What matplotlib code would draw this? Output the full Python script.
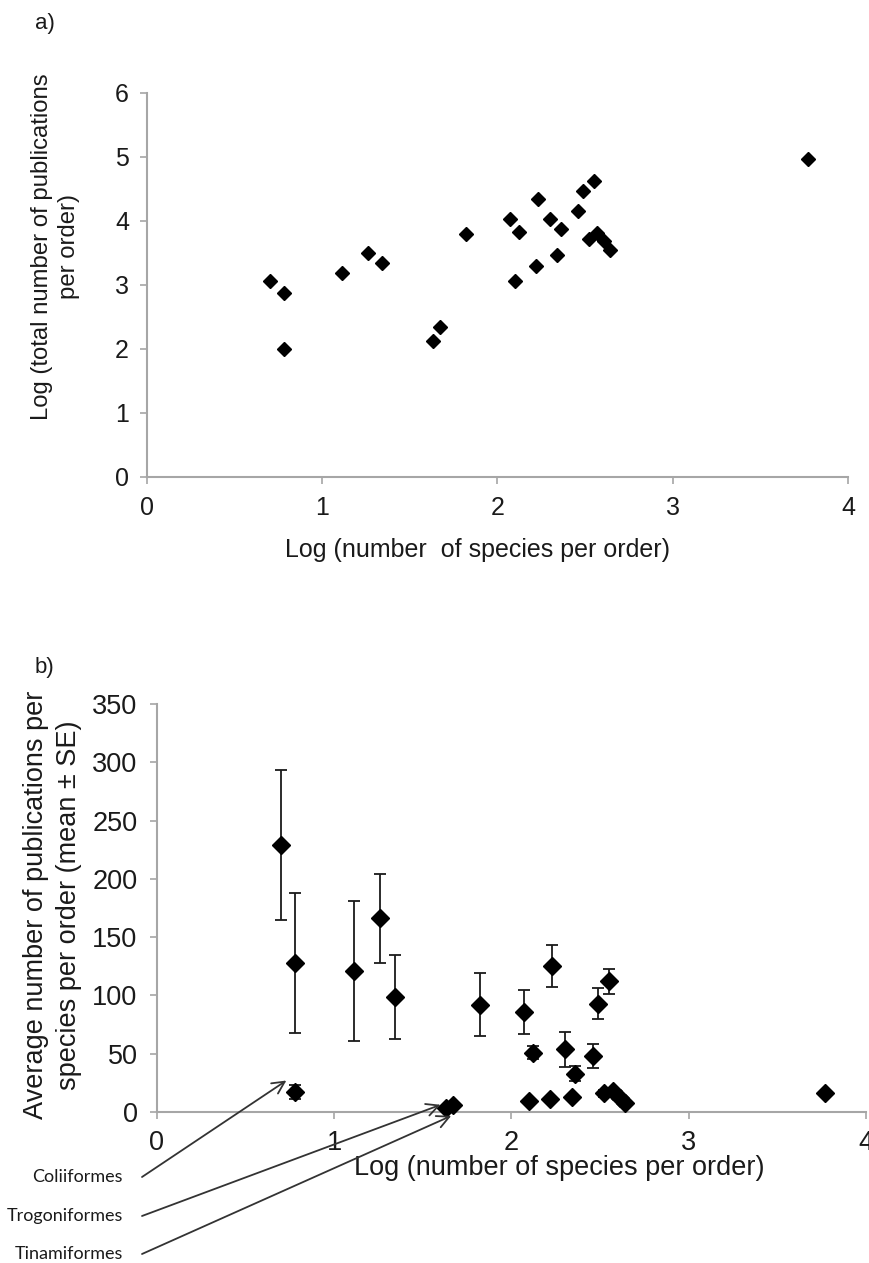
import matplotlib
matplotlib.use("Agg")
import matplotlib.pyplot as plt
import numpy as np

# ---- data ----
log_species = [0.70, 0.78, 0.78, 1.11, 1.26, 1.34, 1.63, 1.67, 1.82, 2.07, 2.10, 2.12, 2.22,
               2.23, 2.30, 2.34, 2.36, 2.46, 2.49, 2.52, 2.55, 2.57, 2.61, 2.64, 3.77]
log_total_pubs = [3.07, 2.88, 2.00, 3.19, 3.50, 3.34, 2.12, 2.35, 3.80, 4.03, 3.06, 3.83, 3.29,
                  4.34, 4.03, 3.47, 3.87, 4.16, 4.47, 3.72, 4.62, 3.81, 3.68, 3.55, 4.97]
mean_pubs = [229, 128, 17, 121, 166, 99, 3.7, 5.7, 92, 86, 9.4, 51, 11,
             125, 54, 13, 33, 48, 93, 16, 112, 18, 12, 8, 16]
se_pubs = [64, 60, 6, 60, 38, 36, 0, 0, 27, 19, 0, 5.5, 0,
           18, 15, 0, 6.5, 10, 13, 3, 10.6, 2, 0, 0, 0]

labelled_orders = ["Coliiformes", "Trogoniformes", "Tinamiformes"]
labelled_index = [2, 6, 7]
arrow_offset_x = [-0.05, -0.03, -0.01]
arrow_offset_y = [10, 2.5, -9]

xticks = [0, 1, 2, 3, 4]
yticks_a = [0, 1, 2, 3, 4, 5, 6]
yticks_b = [0, 50, 100, 150, 200, 250, 300, 350]

W, H = 870, 1263
fig = plt.figure(figsize=(W / 100, H / 100), dpi=100)
plt.rcParams['font.family'] = ['Liberation Sans', 'DejaVu Sans']

axis_grey = '#a6a6a6'
text_col = '#1a1a1a'


def style(ax, fs, xpad, ypad):
    for s in ['top', 'right']:
        ax.spines[s].set_visible(False)
    for s in ['left', 'bottom']:
        ax.spines[s].set_color(axis_grey)
        ax.spines[s].set_linewidth(1.5)
    ax.tick_params(axis='both', colors=axis_grey, labelcolor=text_col, length=5,
                   width=1.2, labelsize=fs, direction='out')
    ax.tick_params(axis='x', pad=xpad)
    ax.tick_params(axis='y', pad=ypad)


# ---- panel a ----
fs_a = 18
axa = fig.add_axes([147 / W, 1 - 477 / H, (848 - 147) / W, (477 - 93) / H])
axa.plot(log_species, log_total_pubs, linestyle='none', marker='D', ms=7.0,
         color='black', clip_on=False)
axa.set_xlim(0, 4)
axa.set_ylim(0, 6)
axa.set_xticks(xticks)
axa.set_yticks(yticks_a)
style(axa, fs_a, 9, 8)
axa.set_xlabel('Log (number  of species per order)', fontsize=fs_a, color=text_col)
axa.xaxis.set_label_coords(0.471, -0.158)
axa.set_ylabel('Log (total number of publications\nper order)', fontsize=17.2,
               color=text_col, linespacing=1.3, ha='center', va='center')
axa.yaxis.set_label_coords(-0.13, 0.60)

# ---- panel b ----
fs_b = 19.5
axb = fig.add_axes([157 / W, 1 - 1112 / H, (866 - 157) / W, (1112 - 704) / H])
axb.errorbar(log_species, mean_pubs, yerr=se_pubs, fmt='none', ecolor=text_col,
             elinewidth=1.3, capsize=4.5, capthick=1.3, clip_on=False, zorder=2)
axb.plot(log_species, mean_pubs, linestyle='none', marker='D', ms=8.8,
         color='black', clip_on=False, zorder=3)
axb.set_xlim(0, 4)
axb.set_ylim(0, 350)
axb.set_xticks(xticks)
axb.set_yticks(yticks_b)
style(axb, fs_b, 8, 9)
axb.set_xlabel('Log (number of species per order)', fontsize=fs_b, color=text_col)
axb.xaxis.set_label_coords(0.568, -0.105)
axb.set_ylabel('Average number of publications per\nspecies per order (mean \u00b1 SE)',
               fontsize=fs_b, color=text_col, linespacing=1.35, ha='center', va='center')
axb.yaxis.set_label_coords(-0.147, 0.507)

# panel letters
fig.text(35 / W, 1 - 23 / H, 'a)', fontsize=16, va='center', ha='left', color=text_col)
fig.text(35 / W, 1 - 667 / H, 'b)', fontsize=16, va='center', ha='left', color=text_col)

# species labels with arrows
label_y_px = [1177, 1216, 1254]
for name, idx, dx, dy, ypx in zip(labelled_orders, labelled_index, arrow_offset_x,
                                  arrow_offset_y, label_y_px):
    fig.text(123 / W, 1 - ypx / H, name, fontsize=13, ha='right', va='center',
             family=['Lato', 'DejaVu Sans'], color=text_col)
    axb.annotate('', xy=(log_species[idx] + dx, mean_pubs[idx] + dy), xycoords='data',
                 xytext=(142, H - ypx), textcoords='figure pixels',
                 arrowprops=dict(arrowstyle='->', color='#333333', lw=1.3,
                                 shrinkA=0, shrinkB=0, mutation_scale=22),
                 annotation_clip=False)

fig.savefig('out.png', dpi=100)
